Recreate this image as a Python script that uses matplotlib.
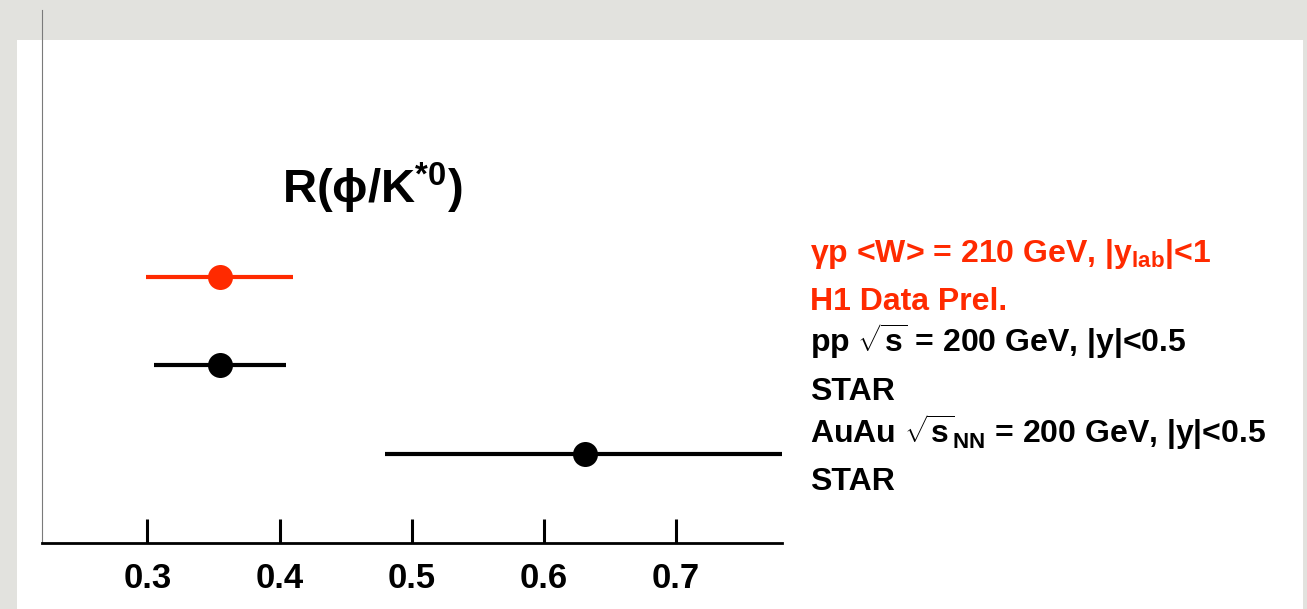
import matplotlib
matplotlib.use('Agg')
import matplotlib.pyplot as plt
from matplotlib.patches import Rectangle

plt.rcParams['font.family'] = ['Liberation Sans', 'DejaVu Sans']
plt.rcParams['font.weight'] = 'bold'
plt.rcParams['mathtext.fontset'] = 'custom'
plt.rcParams['mathtext.rm'] = 'Liberation Sans:bold'
plt.rcParams['mathtext.it'] = 'Liberation Sans:bold'
plt.rcParams['mathtext.bf'] = 'Liberation Sans:bold'
plt.rcParams['mathtext.sf'] = 'Liberation Sans:bold'

#
# Data: phi/K*0 ratio with horizontal error ranges
#
samples = ['H1 gamma-p', 'STAR pp', 'STAR AuAu']
ratio = [0.355, 0.355, 0.631]
ratio_low = [0.299, 0.305, 0.480]
ratio_high = [0.410, 0.405, 0.800]
row = [3, 2, 1]
point_colors = ['#ff2a00', 'black', 'black']

xticks = [0.3, 0.4, 0.5, 0.6, 0.7]
xtick_labels = ['0.3', '0.4', '0.5', '0.6', '0.7']

legend_lines = [
    (r'$\gamma$p <W> = 210 GeV, |y$_{\rm lab}$|<1', '#ff2a00'),
    ('H1 Data Prel.', '#ff2a00'),
    (r'pp $\sqrt{\rm s}$ = 200 GeV, |y|<0.5', 'black'),
    ('STAR', 'black'),
    (r'AuAu $\sqrt{\rm s}_{\rm NN}$ = 200 GeV, |y|<0.5', 'black'),
    ('STAR', 'black'),
]
legend_baselines = [262, 310, 352, 400, 443, 490]

W, H = 1307, 609
fig = plt.figure(figsize=(W / 100, H / 100), dpi=100)
fig.patch.set_facecolor('#e2e2de')

# white slide panel
fig.patches.append(Rectangle((17 / W, 0), (1303 - 17) / W, (H - 40) / H,
                             transform=fig.transFigure, facecolor='white',
                             edgecolor='none', zorder=-10))

ax = fig.add_axes([41.7 / W, (H - 543) / H, (781.7 - 41.7) / W, (543 - 10) / H])
ax.set_facecolor('none')

for x, lo, hi, y, c in zip(ratio, ratio_low, ratio_high, row, point_colors):
    ax.plot([lo, hi], [y, y], color=c, linewidth=3.0, solid_capstyle='butt')
    ax.plot([x], [y], 'o', color=c, markersize=18, markeredgewidth=0)

ax.set_xlim(0.22, 0.78)
ax.set_ylim(0, 6)

ax.spines['top'].set_visible(False)
ax.spines['right'].set_visible(False)
ax.spines['left'].set_color('#7a7a7a')
ax.spines['left'].set_linewidth(0.8)
ax.spines['bottom'].set_linewidth(2.0)

ax.set_xticks(xticks)
ax.set_xticklabels(xtick_labels, fontsize=25, fontweight='bold')
ax.tick_params(axis='x', direction='in', length=17, width=2.2, pad=14)
ax.set_yticks([])

ax.text(0.470, 3.82, r'R($\phi$/K$^{*\mathbf{0}}$)', fontsize=34,
        fontweight='bold', ha='center', va='baseline')

for (txt, c), yb in zip(legend_lines, legend_baselines):
    fig.text(810 / W, 1 - yb / H, txt, color=c, fontsize=23,
             fontweight='bold', ha='left', va='baseline')

fig.savefig('out.png', dpi=100, facecolor=fig.get_facecolor())
